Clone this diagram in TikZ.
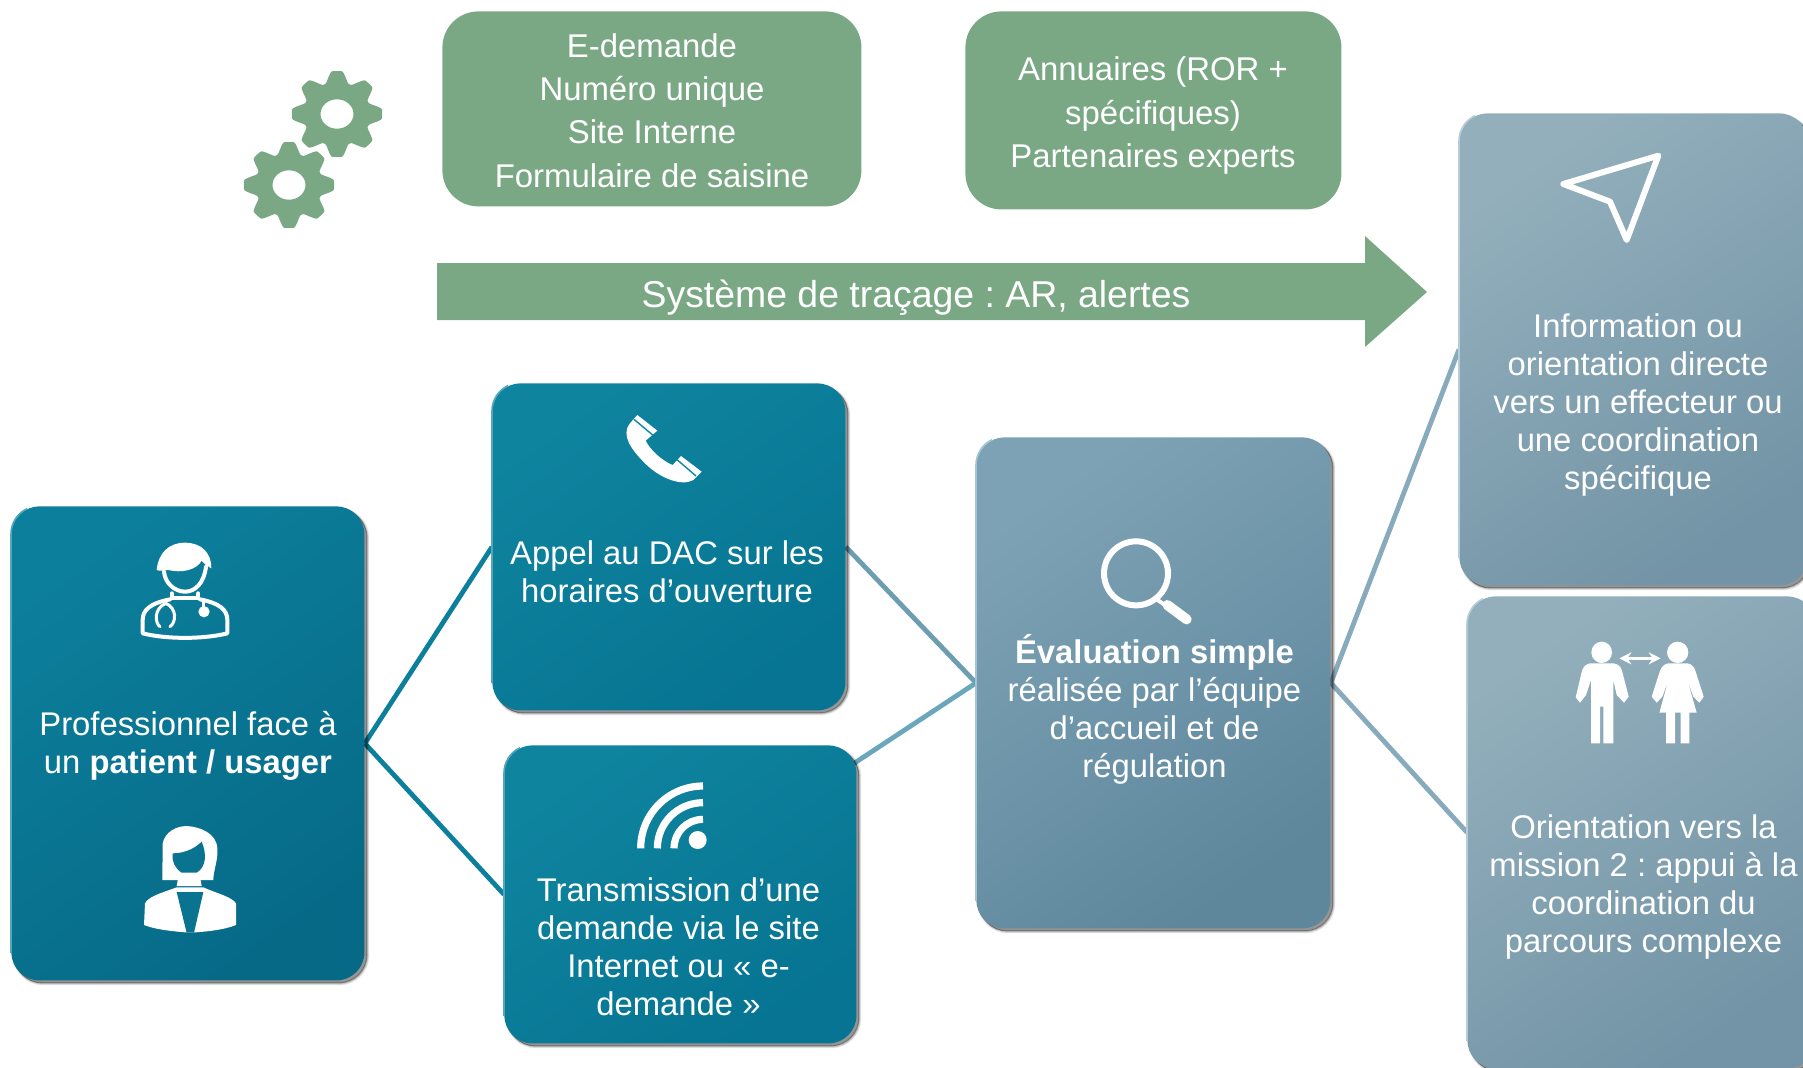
\documentclass[tikz,border=0pt]{standalone}
\usepackage{fontspec}
\setmainfont{Liberation Sans}
\usetikzlibrary{shadows,backgrounds,arrows.meta,calc}
\definecolor{grn}{HTML}{7AA885}
\definecolor{tealA}{HTML}{0C7F9C}
\definecolor{tealB}{HTML}{0A80A0}
\definecolor{tealC}{HTML}{066A87}
\definecolor{brightA}{HTML}{0F849F}
\definecolor{brightB}{HTML}{0988AA}
\definecolor{brightC}{HTML}{067492}
\definecolor{midA}{HTML}{7EA2B5}
\definecolor{midB}{HTML}{6B9DB4}
\definecolor{midC}{HTML}{5E879C}
\definecolor{lowA}{HTML}{93AFBC}
\definecolor{lowB}{HTML}{87AABC}
\definecolor{lowC}{HTML}{7294A6}
\tikzset{
  softshade/.style={
    general shadow={fill=black,draw=black,line width=1.8pt,opacity=.06,shadow xshift=1.6pt,shadow yshift=-1.6pt},
    general shadow={fill=black,draw=black,line width=1pt,opacity=.14,shadow xshift=1.6pt,shadow yshift=-1.6pt},
    general shadow={fill=black,draw=black,line width=.3pt,opacity=.28,shadow xshift=1.2pt,shadow yshift=-1.2pt}},
  card/.style={rectangle,rounded corners=14pt,inner sep=0pt,anchor=north west,softshade},
  tealcard/.style={card,top color=tealA,middle color=tealB,bottom color=tealC,shading angle=35},
  brightcard/.style={card,top color=brightA,middle color=brightB,bottom color=brightC,shading angle=35},
  midcard/.style={card,top color=midA,middle color=midB,bottom color=midC,shading angle=35},
  lowcard/.style={card,top color=lowA,middle color=lowB,bottom color=lowC,shading angle=35},
  greenbox/.style={rectangle,rounded corners=18pt,fill=grn,inner sep=0pt,anchor=north west},
  cardtext/.style={text=white,align=center,inner sep=0pt,font=\frenchspacing\fontsize{16.4}{19}\selectfont},
  greentext/.style={text=white,align=center,inner sep=0pt,font=\frenchspacing\fontsize{16.45}{21.7}\selectfont},
  arrowtext/.style={text=white,inner sep=0pt,font=\frenchspacing\fontsize{18.7}{24}\selectfont},
  wire/.style={line width=2.4pt},
  iconline/.style={draw=white,line width=2pt,line join=round,line cap=round},
  icondetail/.style={draw=white,line width=1.5pt,line join=round,line cap=round},
  iconfill/.style={fill=white},
  zoomed/.style={x=0.16667pt,y=-0.16667pt}
}
\newcommand{\edgelight}[2]{\draw[#2,line width=.8pt] ([yshift=14pt]#1.south west) -- ([yshift=-14pt]#1.north west) arc[start angle=180,end angle=245,radius=28];}
\newcommand{\gearshape}[2]{%
  \fill[grn,even odd rule] plot[domain=0:360,samples=241,smooth] ({#1+1.05*(37.5+5.5*max(-1,min(1,1.3*cos(8*\x)+.25)))*cos(\x)},{#2+(37.5+5.5*max(-1,min(1,1.3*cos(8*\x)+.25)))*sin(\x)}) -- cycle
    (#1,#2) ellipse[x radius=16.5,y radius=14.7];}
\begin{document}
\begin{tikzpicture}[x=0.5pt,y=-0.5pt]
\useasboundingbox (0,0) rectangle (1803,1067);

% gears
\gearshape{337}{114}
\gearshape{289}{185}

% top green boxes
\node[greenbox,minimum width=209.5pt,minimum height=97.5pt] (edem) at (442,11) {};
\node[greentext] (edemt) at (652,110.5) {E-demande\\Numéro unique\\Site Interne\\Formulaire de saisine};
\node[greenbox,minimum width=188pt,minimum height=99pt] (annu) at (965,11) {};
\node[greentext] (annut) at (1153,115.5) {Annuaires (ROR +\\spécifiques)\\Partenaires experts};

% arrow
\fill[grn] (437,263) -- (1365,263) -- (1365,236) -- (1427,292) -- (1365,347) -- (1365,320) -- (437,320) -- cycle;
\node[arrowtext] (trace) at (916,298) {Système de traçage : AR, alertes};

% cards
\node[tealcard,minimum width=176.5pt,minimum height=237pt] (prof) at (11,506) {};
\edgelight{prof}{tealB!70!white}
\node[cardtext] (proft) at (188,745.5) {Professionnel face à\\un \textbf{patient / usager}};

\node[brightcard,minimum width=176.5pt,minimum height=163.5pt] (appel) at (492,383) {};
\edgelight{appel}{tealB!70!white}
\node[cardtext] (appelt) at (667,572) {Appel au DAC sur les\\horaires d’ouverture};

\node[brightcard,minimum width=176pt,minimum height=149pt] (trans) at (504,745) {};
\edgelight{trans}{tealB!70!white}
\node[cardtext] (transt) at (678.5,946.5) {Transmission d’une\\demande via le site\\Internet ou « e-\\demande »};

\node[midcard,minimum width=177pt,minimum height=245.5pt] (eval) at (976,437) {};
\edgelight{eval}{midB!60!white}
\node[cardtext] (evalt) at (1154.5,709.5) {\textbf{Évaluation simple}\\réalisée par l’équipe\\d’accueil et de\\régulation};

\node[lowcard,minimum width=174pt,minimum height=236pt] (info) at (1459,113) {};
\edgelight{info}{lowB!60!white}
\node[cardtext] (infot) at (1638,405.5) {Information ou\\orientation directe\\vers un effecteur ou\\une coordination\\spécifique};

\node[lowcard,minimum width=174pt,minimum height=236pt] (orient) at (1467,596) {};
\edgelight{orient}{lowB!60!white}
\node[cardtext] (orientt) at (1643.5,886.5) {Orientation vers la\\mission 2 : appui à la\\coordination du\\parcours complexe};

\coordinate (transcorner) at (850,766);

% connectors
\begin{scope}[on background layer]
  \draw[wire,draw=tealA] (prof.east) -- (appel.west);
  \draw[wire,draw=tealA] (prof.east) -- (trans.west);
  \draw[wire,draw=midA!85!tealB] (appel.east) -- (eval.west);
  \draw[wire,draw=midB!60!tealB!80!white] (transcorner) -- (eval.west);
  \draw[wire,draw=lowB] (eval.east) -- (info.west);
  \draw[wire,draw=lowB] (eval.east) -- (orient.west);
\end{scope}

% doctor icon
\begin{scope}[shift={(0,490)},zoomed]
  \fill[white] (470,240) .. controls (475,190) and (505,158) .. (555,158) .. controls (605,158) and (635,190) .. (634,235) -- (618,225) -- (605,212) .. controls (590,240) and (545,250) .. (505,240) .. controls (495,240) and (480,245) .. (470,240) -- cycle;
  \draw[iconline] (492,245) .. controls (495,280) and (525,305) .. (555,305) .. controls (585,305) and (612,280) .. (618,230);
  \draw[iconline] (515,310) -- (515,325) -- (595,325) -- (595,310);
  \draw[iconline] (510,328) .. controls (450,340) and (428,360) .. (428,390) -- (428,430) .. controls (500,448) and (610,448) .. (682,430) -- (682,390) .. controls (682,360) and (660,340) .. (600,328);
  \draw[icondetail] (498,340) .. controls (460,355) and (465,400) .. (480,410) (498,340) .. controls (530,355) and (530,395) .. (510,410);
  \draw[icondetail] (610,330) -- (610,360);
  \fill[white] (612,365) circle[radius=17];
\end{scope}

% patient icon
\begin{scope}[shift={(0,490)},zoomed]
  \fill[white] (487,1170) -- (488,1060) .. controls (495,1025) and (530,1008) .. (560,1008) .. controls (600,1010) and (650,1030) .. (652,1075) .. controls (655,1110) and (640,1140) .. (640,1170) -- cycle;
  \fill[tealB!90!black] (518,1090) .. controls (560,1090) and (590,1070) .. (605,1055) .. controls (620,1090) and (620,1130) .. (590,1148) -- (545,1148) .. controls (525,1135) and (515,1115) .. (518,1090) -- cycle;
  \fill[white] (535,1160) -- (600,1160) -- (605,1188) -- (530,1188) -- cycle;
  \fill[white] (530,1192) .. controls (480,1210) and (445,1220) .. (435,1240) -- (432,1305) .. controls (470,1320) and (530,1325) .. (570,1328) .. controls (620,1325) and (670,1320) .. (708,1305) -- (708,1240) .. controls (695,1220) and (650,1210) .. (610,1192) -- cycle;
  \fill[tealB!90!black] (530,1206) -- (610,1206) -- (582,1328) -- (560,1328) -- cycle;
\end{scope}

% phone icon
\begin{scope}[shift={(480,370)},zoomed]
  \fill[white] (448,162) -- (472,135) -- (532,182) -- (505,205) -- (497,212) .. controls (510,240) and (550,275) .. (578,285) -- (603,258) -- (665,305) -- (640,330) .. controls (605,350) and (540,325) .. (495,280) .. controls (450,235) and (425,195) .. (448,162) -- cycle;
  \draw[draw=brightB,line width=.7pt] (462,148) -- (518,195) (590,268) -- (648,318);
\end{scope}

% wifi icon
\begin{scope}[shift={(490,730)},zoomed]
  \draw[white,line width=3.6pt] (452,355) arc[start angle=180,end angle=270,radius=187];
  \draw[white,line width=3.6pt] (502,355) arc[start angle=180,end angle=270,radius=137];
  \draw[white,line width=3.6pt] (552,355) arc[start angle=180,end angle=270,radius=87];
  \fill[white] (623,330) circle[radius=27];
\end{scope}

% magnifier icon
\begin{scope}[shift={(960,430)},zoomed]
  \draw[white,line width=3pt] (528,430) circle[radius=96];
  \draw[white,line width=2pt] (585,505) -- (615,525);
  \draw[white,line width=5pt,line cap=round] (622,525) -- (680,568);
\end{scope}

% send icon
\begin{scope}[shift={(1400,100)},zoomed]
  \draw[white,line width=3pt,line join=round] (490,252) -- (775,167) -- (680,420) -- (630,305) -- cycle;
\end{scope}

% people icon
\begin{scope}[shift={(1400,580)},zoomed]
  \fill[white] (605,217) ellipse[x radius=31,y radius=32];
  \fill[white] (833,217) ellipse[x radius=32,y radius=32];
  \fill[white] (570,250) -- (640,250) .. controls (655,252) and (662,260) .. (666,272) -- (686,350) -- (672,368) -- (650,345) -- (640,300) -- (640,490) -- (610,490) -- (610,380) -- (600,380) -- (600,490) -- (573,490) -- (573,300) -- (558,345) -- (540,368) -- (527,352) -- (546,272) .. controls (550,260) and (558,252) .. (570,250) -- cycle;
  \fill[white] (805,250) -- (862,250) .. controls (875,252) and (882,260) .. (886,272) -- (911,350) -- (898,368) -- (880,350) -- (862,300) -- (890,398) -- (868,398) -- (868,490) -- (842,490) -- (842,398) -- (825,398) -- (825,490) -- (798,490) -- (798,398) -- (778,398) -- (805,300) -- (787,350) -- (770,368) -- (755,350) -- (780,272) .. controls (785,260) and (793,252) .. (805,250) -- cycle;
  \draw[white,line width=1.2pt,{Stealth[length=6pt,width=6pt]}-{Stealth[length=6pt,width=6pt]}] (658,235) -- (782,235);
\end{scope}
\end{tikzpicture}
\end{document}
